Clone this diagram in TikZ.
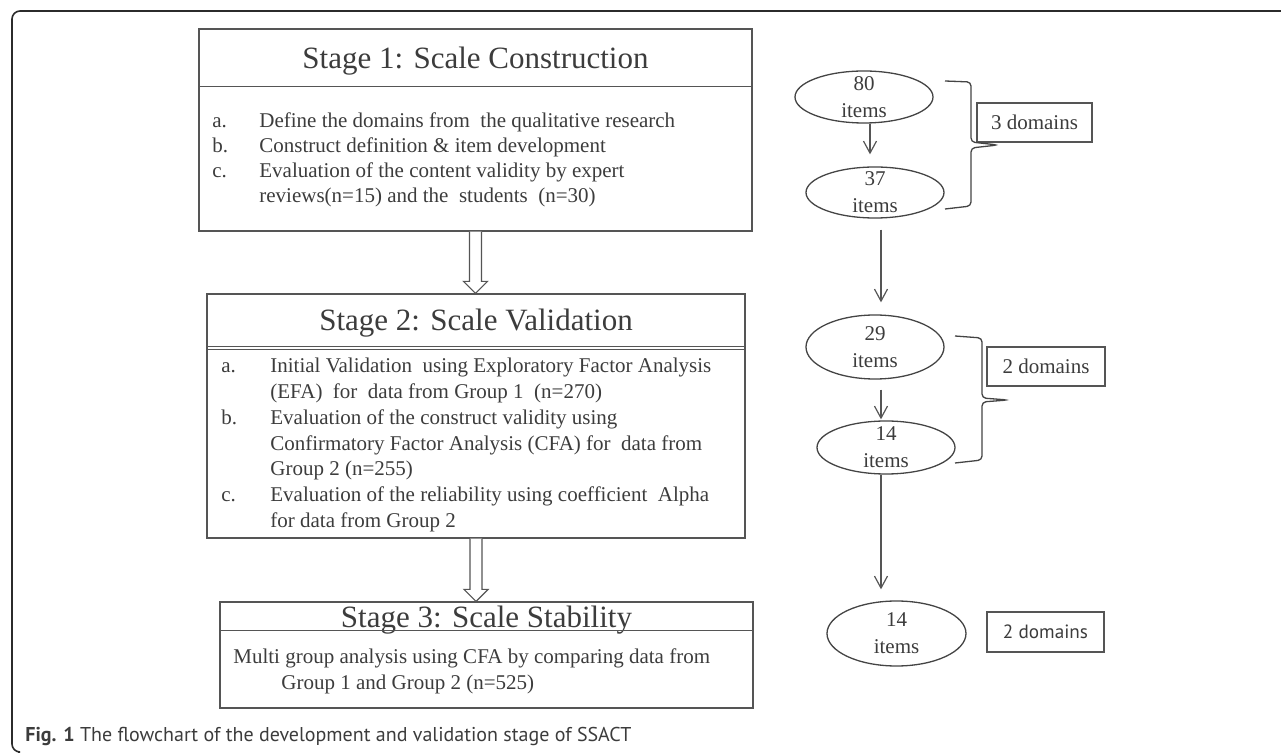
\documentclass[tikz,border=0pt]{standalone}
\usepackage{fontspec}
\setmainfont{Liberation Serif}
\newfontfamily\capfont{PT Sans}
\usetikzlibrary{arrows.meta,shapes.geometric}
\definecolor{linecolor}{HTML}{555555}
\definecolor{penline}{HTML}{444444}
\definecolor{inkcolor}{HTML}{3C3C3C}
\definecolor{framecolor}{HTML}{2B2B2B}
\tikzset{
  ssact frame/.style={framecolor,line width=.8pt,rounded corners=4pt},
  ssact box/.style={draw=linecolor,line width=.6pt,inner sep=0pt},
  ssact title/.style={text=inkcolor,font=\fontsize{15.5}{18}\selectfont,inner sep=0pt},
  ssact body/.style={text=inkcolor,inner sep=0pt},
  ssact rule/.style={linecolor,line width=.6pt},
  ssact hollow/.style={draw=linecolor,line width=.6pt,fill=white,line join=miter},
  ssact item/.style={ellipse,draw=penline,line width=.65pt,minimum width=69pt,inner sep=0pt},
  ssact count/.style={text=inkcolor,align=center,inner sep=0pt,font=\fontsize{10.5}{13.5}\selectfont},
  ssact domain/.style={draw=linecolor,line width=.6pt,inner sep=0pt,minimum height=19.5pt,text=inkcolor,font=\fontsize{10.5}{12}\selectfont},
  ssact arrow/.style={linecolor,line width=.6pt,-{Straight Barb[length=6pt,width=6.5pt]}},
  ssact brace/.style={penline,line width=.65pt,rounded corners=2pt}
}
\begin{document}
\begin{tikzpicture}[x=.5pt,y=-.5pt]
  \useasboundingbox (0,0) rectangle (1281,753);
  \draw[ssact frame] (1290,11) -- (12,11) -- (12,752) -- (18,752);

  \node[ssact box,minimum width=276.5pt,minimum height=101pt] (s1) at (475.5,130) {};
  \node[ssact title,anchor=base] (s1title) at (475.5,69) {Stage 1: Scale Construction};
  \draw[ssact rule] ([yshift=-29pt]s1.north west) -- ([yshift=-29pt]s1.north east);
  \node[ssact body,anchor=base west,font=\fontsize{10.5}{12.5}\selectfont] (s1body) at (212,128) {%
    \begin{tabular}[t]{@{}p{23.5pt}@{}l@{}}
      a. & Define the domains from\ \ the qualitative research\\
      b. & Construct definition \& item development\\
      c. & Evaluation of the content validity by expert\\
         & reviews(n=15) and the\ \ students\ \ (n=30)
    \end{tabular}};

  \node[ssact box,minimum width=269pt,minimum height=122pt] (s2) at (476,416) {};
  \node[ssact title,anchor=base] (s2title) at (476,331) {Stage 2: Scale Validation};
  \draw[ssact rule] ([yshift=-26.5pt]s2.north west) -- ([yshift=-26.5pt]s2.north east);
  \draw[ssact rule] ([yshift=-28pt]s2.north west) -- ([yshift=-28pt]s2.north east);
  \node[ssact body,anchor=base west,font=\fontsize{10.5}{12.85}\selectfont] (s2body) at (221,373) {%
    \begin{tabular}[t]{@{}p{24.5pt}@{}l@{}}
      a. & Initial Validation\ \ using Exploratory Factor Analysis\\
         & (EFA)\ \ for\ \ data from Group 1\ \ (n=270)\\
      b. & Evaluation of the construct validity using\\
         & Confirmatory Factor Analysis (CFA) for\ \ data from\\
         & Group 2 (n=255)\\
      c. & Evaluation of the reliability using coefficient\ \ Alpha\\
         & for data from Group 2
    \end{tabular}};

  \node[ssact box,minimum width=266.5pt,minimum height=53pt] (s3) at (486.5,655) {};
  \node[ssact title,anchor=base] (s3title) at (486.5,628) {Stage 3: Scale Stability};
  \draw[ssact rule] ([yshift=-14.5pt]s3.north west) -- ([yshift=-14.5pt]s3.north east);
  \node[ssact body,anchor=base west,font=\fontsize{10.5}{13}\selectfont] (s3body) at (233,664) {%
    \begin{tabular}[t]{@{}l@{}}
      Multi group analysis using CFA by comparing data from\\
      \hspace*{24pt}Group 1 and Group 2 (n=525)
    \end{tabular}};

  \coordinate (t1) at (s1.south |- s2.north);
  \draw[ssact hollow] ([xshift=-3pt]s1.south) -- ([xshift=-3pt,yshift=6pt]t1) -- ([xshift=-6pt,yshift=6pt]t1) -- (t1)
    -- ([xshift=6pt,yshift=6pt]t1) -- ([xshift=3pt,yshift=6pt]t1) -- ([xshift=3pt]s1.south);
  \coordinate (t2) at (s2.south |- s3.north);
  \draw[ssact hollow] ([xshift=-3pt]s2.south) -- ([xshift=-3pt,yshift=6pt]t2) -- ([xshift=-6pt,yshift=6pt]t2) -- (t2)
    -- ([xshift=6pt,yshift=6pt]t2) -- ([xshift=3pt,yshift=6pt]t2) -- ([xshift=3pt]s2.south);

  \node[ssact item,minimum height=26pt] (e80) at (864,97) {};
  \node[ssact count] (e80t) at (e80) {80\\items};
  \node[ssact item,minimum height=25.5pt] (e37) at (875,192.5) {};
  \node[ssact count] (e37t) at (e37) {37\\items};
  \node[ssact item,minimum height=32pt] (e29) at (875,347) {};
  \node[ssact count] (e29t) at (e29) {29\\items};
  \node[ssact item,minimum height=26.5pt] (e14) at (886,447.5) {};
  \node[ssact count] (e14t) at (e14) {14\\items};
  \node[ssact item,minimum width=69.5pt,minimum height=32.5pt] (e14b) at (896.5,633.5) {};
  \node[ssact count] (e14bt) at (e14b) {14\\items};

  \draw[ssact arrow,shorten >=6pt] ([xshift=3pt]e80.south) -- ([xshift=3pt]e80.south |- e37.north);
  \draw[ssact arrow,shorten <=5.5pt,shorten >=6pt] ([xshift=3pt]e37.south) -- ([xshift=3pt]e37.south |- e29.north);
  \draw[ssact arrow,shorten <=5pt,shorten >=.5pt] ([xshift=3pt]e29.south) -- ([xshift=3pt]e29.south |- e14.north);
  \draw[ssact arrow,shorten >=5.5pt] ([xshift=-2.5pt]e14.south) -- ([xshift=-2.5pt]e14.south |- e14b.north);

  \node[ssact domain,minimum width=57.5pt] (d3) at (1034.5,122.5) {3 domains};
  \node[ssact domain,minimum width=59pt] (d2a) at (1046,366.5) {2 domains};
  \node[ssact domain,minimum width=58.5pt,minimum height=20pt,font=\capfont\fontsize{9.6}{11}\selectfont] (d2b) at (1045.5,632) {2 domains};

  \draw[ssact brace] (945,81) -- (971,82) -- (971,142) -- (998,145) -- (971,148) -- (971,206) -- (945,209);
  \draw[ssact brace] (955,336) -- (982,338) -- (982,398) -- (1008,400) -- (982,402) -- (982,460) -- (955,463);

  \node[anchor=base west,inner sep=0pt,text=inkcolor,font=\capfont\fontsize{10}{12}\selectfont] (cap) at (25,741)
    {\textbf{Fig. 1} The flowchart of the development and validation stage of SSACT};
\end{tikzpicture}
\end{document}
